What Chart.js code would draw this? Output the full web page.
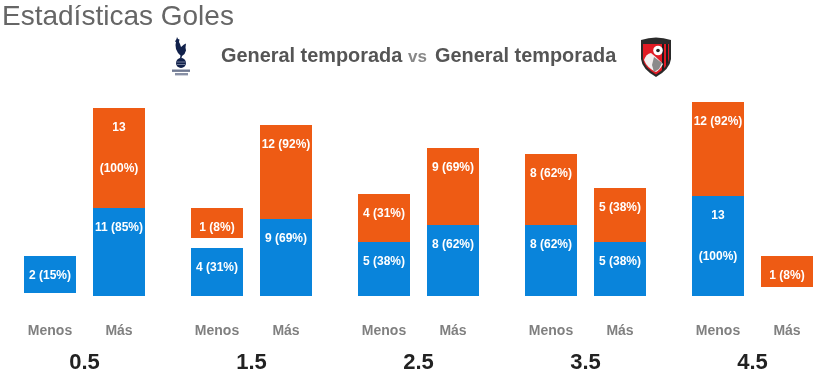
<!DOCTYPE html>
<html lang="es">
<head>
<meta charset="utf-8">
<title>Estadísticas Goles</title>
<script src="https://cdn.jsdelivr.net/npm/chart.js@4"></script>
<style>
html,body{margin:0;padding:0;background:#fff;width:837px;height:379px;overflow:hidden;font-family:"Liberation Sans",Arial,sans-serif}
#wrap{position:relative;width:837px;height:379px}
canvas{position:absolute;left:0;top:0}
.t{position:absolute;white-space:nowrap;line-height:1}
#main{left:2px;top:2px;font-size:28px;color:#666}
.sub{top:46px;font-size:19.9px;font-weight:bold;color:#555}
#vs{left:408px;top:48px;font-size:17px;font-weight:bold;color:#888}
svg{position:absolute}
</style>
</head>
<body>
<div id="wrap">
<canvas id="c" width="837" height="379"></canvas>
<div class="t" id="main">Estadísticas Goles</div>
<div class="t sub" style="left:221px">General temporada</div>
<div class="t" id="vs">vs</div>
<div class="t sub" style="left:435px">General temporada</div>
<svg style="left:170px;top:36px" width="22" height="42" viewBox="0 0 22 42" aria-label="Tottenham Hotspur">
 <g fill="#11214b">
  <path d="M7 1l1 2 1.500 .5L9 6l1 2 1 3 3-2.500 2-1-.5 4 .5 3-1.500 3.500L12 20l-.5 2h-1.500l.5-2.500L8 17l-2-4-.5-4 .5-3-1-.5L6.500 3z"/>
  <circle cx="11" cy="27" r="5"/>
  <rect x="2" y="33.500" width="18" height="2.400" opacity=".6"/>
  <rect x="5" y="37" width="13" height="2.400" opacity=".5"/>
 </g>
 <path d="M6.500 26h9M7 28.500h8" stroke="#8c96ad" stroke-width=".8"/>
</svg>
<svg style="left:639px;top:36px" width="34" height="42" viewBox="0 0 34 42" aria-label="AFC Bournemouth">
 <path d="M2 4Q17 -1 32 4L32 23Q31 33 17 41Q3 33 2 23Z" fill="#2a2a2a"/>
 <path d="M4 8H30V23Q29 31 17 38.500Q5 31 4 23Z" fill="#e01b24"/>
 <path d="M23 8h2v25l-2 1.500zM27 8h2v19l-2 3.500z" fill="#1d1d1d"/>
 <path d="M5 24Q7 18 12 17Q17 21 20 24L24 28Q21 34 17 36Q8 32 5 24Z" fill="#f3eeee"/>
 <path d="M15 21l8 6-3 6-5 3-2-7z" fill="#8a8a8a"/>
 <circle cx="19" cy="14.500" r="4.800" fill="#fff"/>
 <circle cx="19" cy="14.500" r="1.800" fill="#222"/>
</svg>
</div>
<script>
// Over/under goal lines
const goalLines = ['0.5', '1.5', '2.5', '3.5', '4.5'];
const sideLabels = ['Menos', 'Más'];

// Counts and percentages printed on the bars (null = no bar)
const menosBlueCount = [2, 4, 5, 8, 13];
const menosBluePct = [15, 31, 38, 62, 100];
const menosOrangeCount = [null, 1, 4, 8, 12];
const menosOrangePct = [null, 8, 31, 62, 92];
const masBlueCount = [11, 9, 8, 5, null];
const masBluePct = [85, 69, 62, 38, null];
const masOrangeCount = [13, 12, 9, 5, 1];
const masOrangePct = [100, 92, 69, 38, 8];

// Bar extents: [from, to] on the chart's value axis
const menosBlueBars = [[3, 40], [0, 48], [0, 54], [0, 71], [0, 100]];
const menosOrangeBars = [null, [58, 88], [54, 102], [71, 142], [100, 194]];
const masBlueBars = [[0, 88], [0, 77], [0, 71], [0, 54], null];
const masOrangeBars = [[88, 188], [77, 171], [71, 148], [54, 108], [9, 40]];

const BLUE = '#0984db';
const ORANGE = '#ee5b14';
const FONT = '"Liberation Sans", Arial, sans-serif';

const counts = [menosBlueCount, menosOrangeCount, masBlueCount, masOrangeCount];
const pcts = [menosBluePct, menosOrangePct, masBluePct, masOrangePct];

const barLabels = {
  id: 'barLabels',
  afterDatasetsDraw(chart) {
    const ctx = chart.ctx;
    ctx.save();
    ctx.textAlign = 'center';
    ctx.textBaseline = 'middle';
    ctx.fillStyle = '#fff';
    ctx.font = 'bold 12px ' + FONT;
    counts.forEach((arr, d) => {
      const meta = chart.getDatasetMeta(d);
      arr.forEach((n, i) => {
        if (n === null) return;
        const el = meta.data[i];
        const y = el.y + 20;
        if (pcts[d][i] === 100) {
          ctx.fillText(String(n), el.x, y);
          ctx.fillText('(100%)', el.x, y + 40.5);
        } else {
          ctx.fillText(n + ' (' + pcts[d][i] + '%)', el.x, y);
        }
      });
    });
    ctx.font = 'bold 14px ' + FONT;
    ctx.fillStyle = '#808080';
    goalLines.forEach((_, i) => {
      ctx.fillText(sideLabels[0], chart.getDatasetMeta(0).data[i].x, 331.5);
      ctx.fillText(sideLabels[1], chart.getDatasetMeta(3).data[i].x, 331.5);
    });
    ctx.restore();
  }
};

new Chart(document.getElementById('c'), {
  type: 'bar',
  data: {
    labels: goalLines,
    datasets: [
      { label: 'Menos local', data: menosBlueBars, backgroundColor: BLUE, stack: 'menos' },
      { label: 'Menos visitante', data: menosOrangeBars, backgroundColor: ORANGE, stack: 'menos' },
      { label: 'Más local', data: masBlueBars, backgroundColor: BLUE, stack: 'mas' },
      { label: 'Más visitante', data: masOrangeBars, backgroundColor: ORANGE, stack: 'mas' }
    ]
  },
  options: {
    responsive: false,
    animation: false,
    categoryPercentage: 138 / 167,
    barPercentage: 52 / 69,
    layout: { padding: { left: 1, right: 1, top: 100, bottom: 0 } },
    plugins: { legend: { display: false }, title: { display: false }, tooltip: { enabled: false } },
    scales: {
      x: {
        stacked: true,
        grid: { display: false },
        border: { display: false },
        afterFit(s) { s.height = 83; },
        ticks: { color: '#222', padding: 46, maxRotation: 0, font: { family: FONT, size: 22, weight: 'bold' } }
      },
      y: { display: false, min: 0, max: 196, stacked: false }
    }
  },
  plugins: [barLabels]
});
</script>
</body>
</html>
